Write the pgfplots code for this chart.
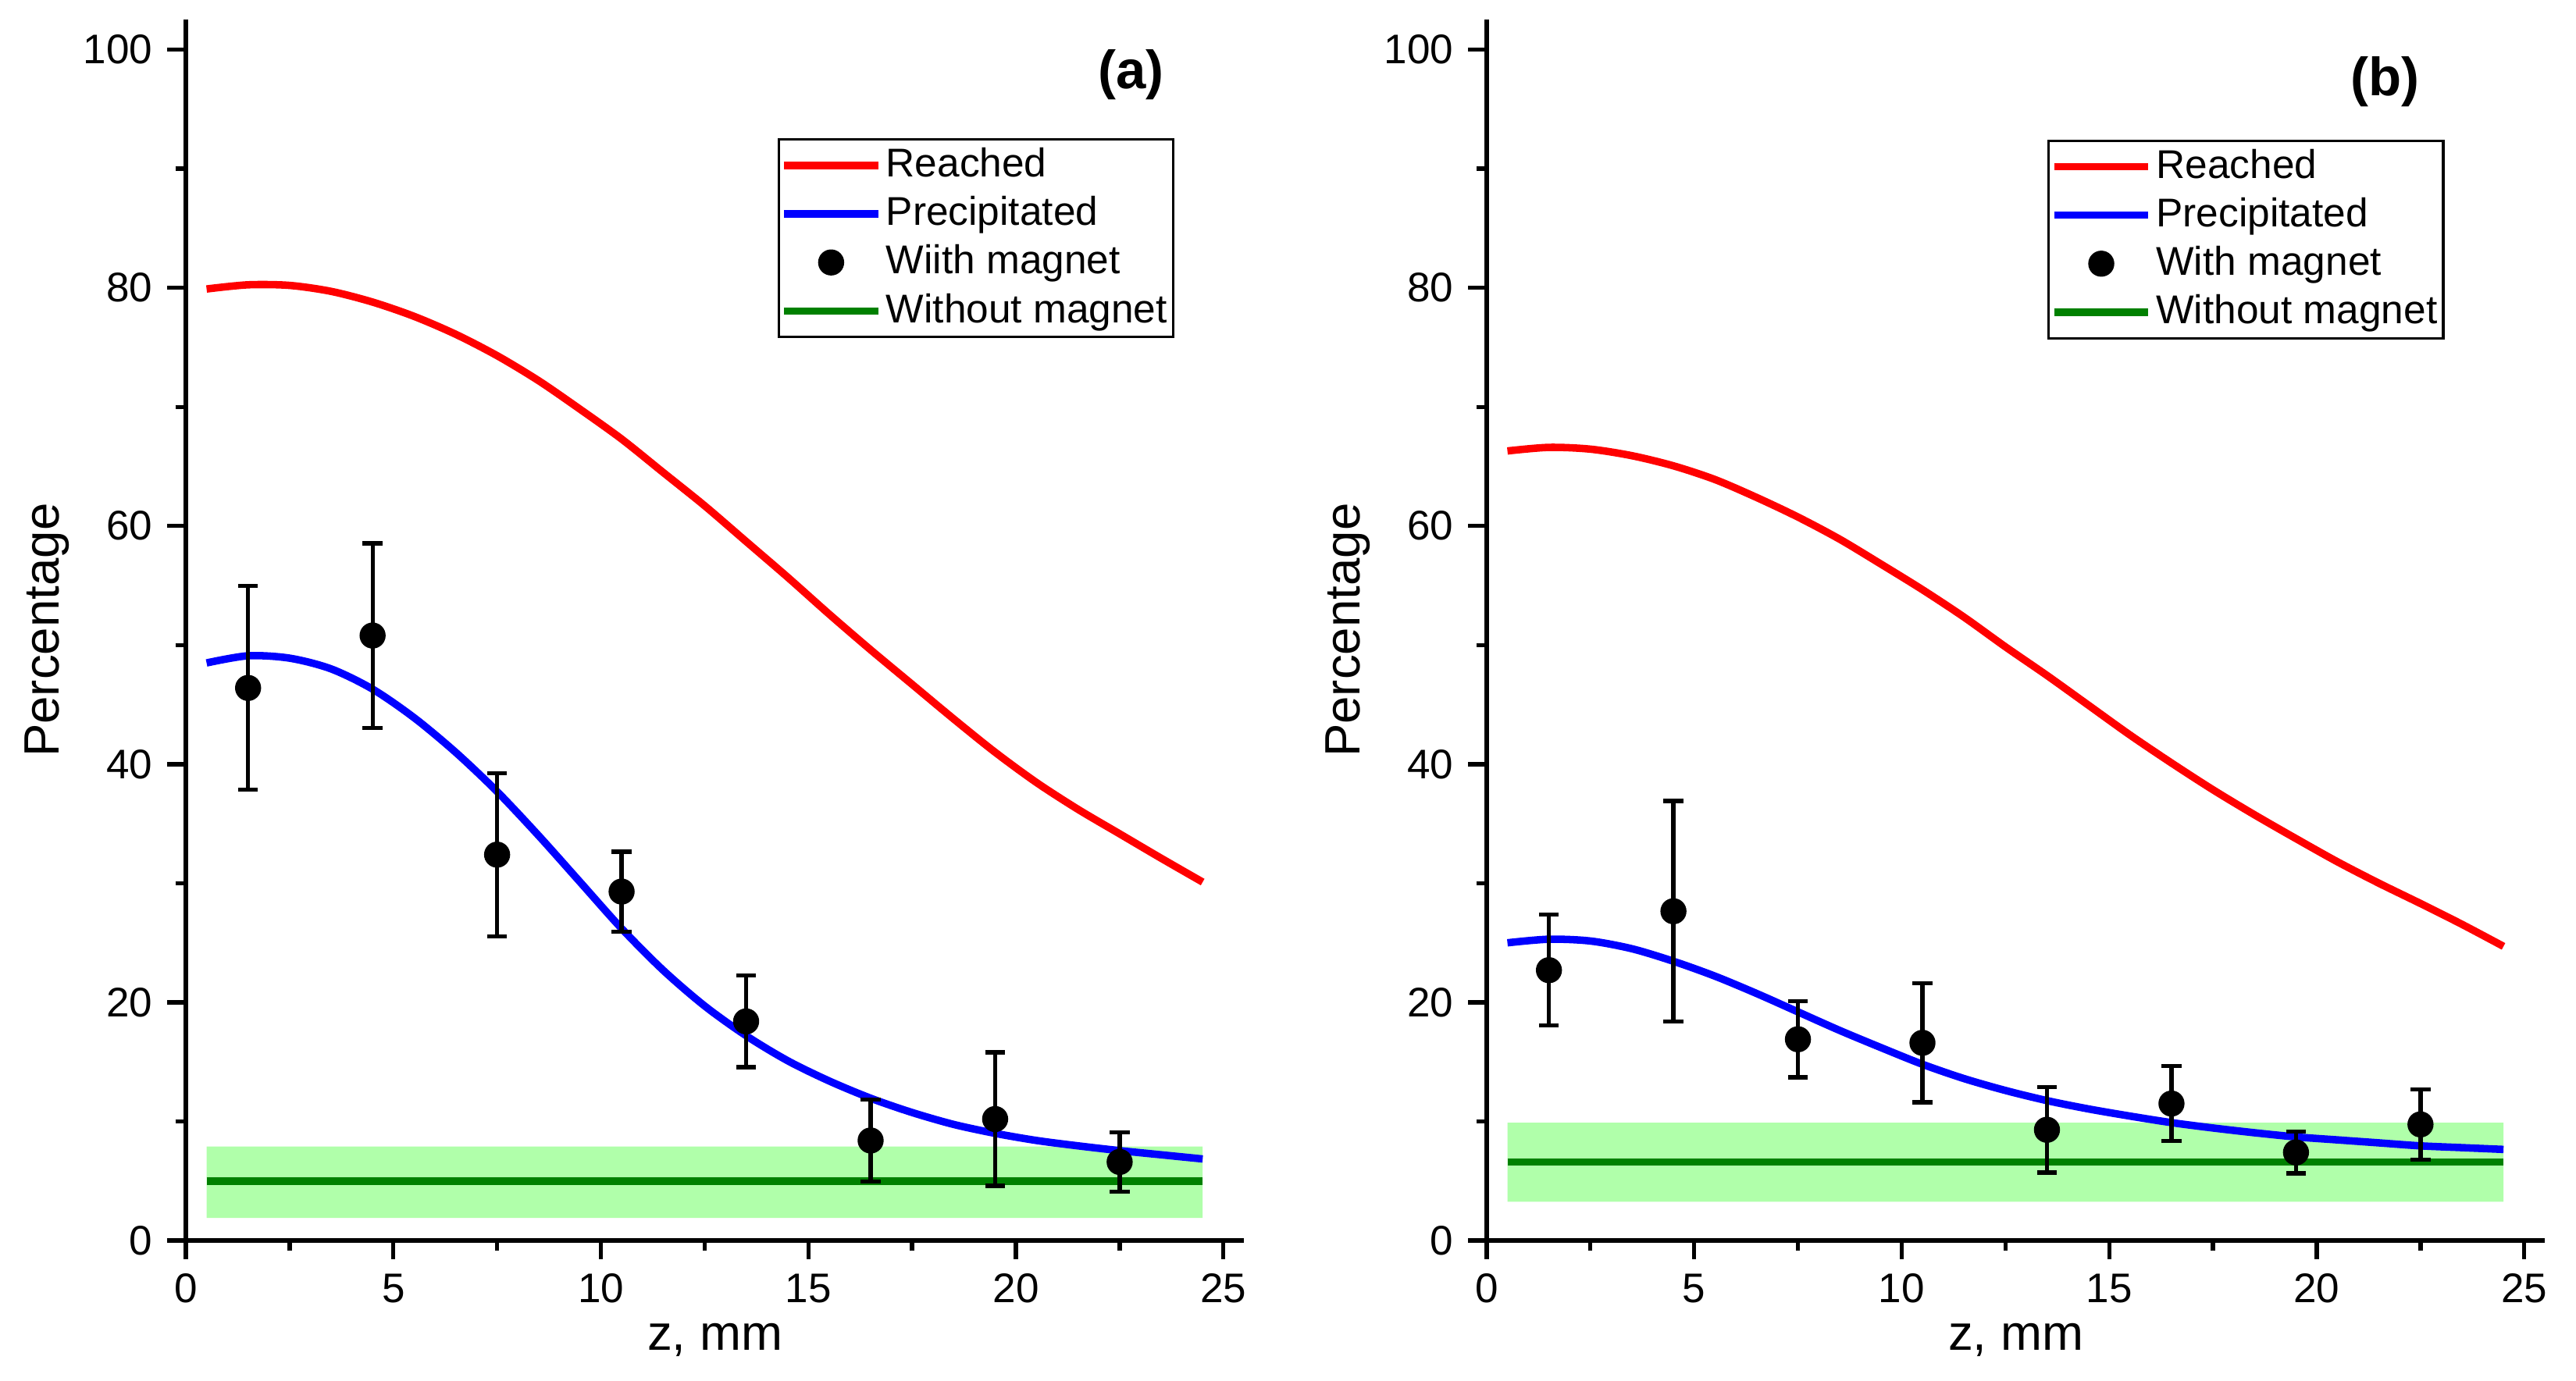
\documentclass[border=0pt]{standalone}
\usepackage{fontspec}
\setmainfont{Liberation Sans}
\usepackage{pgfplots}
\pgfplotsset{compat=1.18}
\usepackage{pgfplotstable}

\definecolor{myred}{RGB}{255,0,0}
\definecolor{myblue}{RGB}{0,0,255}
\definecolor{mygreen}{RGB}{0,128,0}
\definecolor{bandgreen}{RGB}{176,255,170}

% ---------- data panel (a) ----------
\pgfplotstableread{
x y
0.5 79.9
1.5 80.25
2.5 80.2
3.5 79.7
4.5 78.8
5.5 77.6
6.5 76.1
7.5 74.3
8.5 72.2
9.5 69.8
10.5 67.3
11.5 64.5
12.5 61.7
13.5 58.7
14.5 55.7
15.5 52.6
16.5 49.6
17.5 46.7
18.5 43.8
19.5 41.0
20.5 38.45
21.5 36.2
22.5 34.15
23.5 32.1
24.5 30.1
}\redA
\pgfplotstableread{
x y
0.5 48.5
1.5 49.1
2.5 48.9
3.5 48.0
4.5 46.3
5.5 43.9
6.5 41.0
7.5 37.7
8.5 34.0
9.5 30.1
10.5 26.2
11.5 22.7
12.5 19.7
13.5 17.2
14.5 15.1
15.5 13.4
16.5 11.95
17.5 10.75
18.5 9.75
19.5 9.0
20.5 8.4
21.5 7.95
22.5 7.55
23.5 7.2
24.5 6.85
}\blueA
\pgfplotstableread{
x y e
1.5 46.4 8.55
4.5 50.8 7.75
7.5 32.4 6.85
10.5 29.3 3.35
13.5 18.4 3.85
16.5 8.4 3.45
19.5 10.2 5.6
22.5 6.6 2.5
}\ptsA
% ---------- data panel (b) ----------
\pgfplotstableread{
x y
0.5 66.3
1.5 66.6
2.5 66.45
3.5 65.9
4.5 65.05
5.5 63.9
6.5 62.4
7.5 60.75
8.5 58.9
9.5 56.8
10.5 54.65
11.5 52.35
12.5 49.85
13.5 47.45
14.5 44.95
15.5 42.45
16.5 40.1
17.5 37.85
18.5 35.75
19.5 33.75
20.5 31.8
21.5 30.0
22.5 28.3
23.5 26.55
24.5 24.7
}\redB
\pgfplotstableread{
x y
0.5 25.0
1.5 25.3
2.5 25.15
3.5 24.5
4.5 23.45
5.5 22.2
6.5 20.75
7.5 19.2
8.5 17.65
9.5 16.2
10.5 14.8
11.5 13.6
12.5 12.6
13.5 11.75
14.5 11.05
15.5 10.45
16.5 9.9
17.5 9.45
18.5 9.05
19.5 8.7
20.5 8.45
21.5 8.2
22.5 7.95
23.5 7.8
24.5 7.65
}\blueB
\pgfplotstableread{
x y e
1.5 22.7 4.65
4.5 27.65 9.25
7.5 16.9 3.2
10.5 16.6 5.0
13.5 9.3 3.6
16.5 11.5 3.15
19.5 7.4 1.75
22.5 9.75 2.95
}\ptsB

\pgfplotsset{
  panel/.style={
    scale only axis, width=255.7pt, height=295pt,
    xmin=0, xmax=25.5, ymin=0, ymax=102.5,
    axis x line*=bottom, axis y line*=left,
    axis line style={line width=1pt, black},
    xtick={0,5,...,25}, ytick={0,20,...,100},
    minor xtick={2.5,7.5,...,22.5}, minor ytick={10,30,...,90},
    tick align=outside,
    major tick length=4.5pt, minor tick length=2.5pt,
    every tick/.style={black, line width=1pt},
    tick label style={font=\fontsize{10}{12}\selectfont},
    /pgf/number format/assume math mode=true,
    xlabel={z, mm}, ylabel={Percentage},
    every axis x label/.style={at={(axis description cs:0.5,-0.0895)}, anchor=base, font=\fontsize{12}{14}\selectfont},
    every axis y label/.style={at={(axis description cs:-0.1197,0.5)}, rotate=90, anchor=base, font=\fontsize{12}{14}\selectfont},
    legend cell align=left,
    legend image code/.code={\draw[mark repeat=2,mark phase=2,##1] plot coordinates {(0cm,0cm) (0.4cm,0cm) (0.8cm,0cm)};},
    legend style={draw=black, line width=0.6pt, fill=white,
      font=\fontsize{9.7}{11.6}\selectfont, inner sep=0.4pt,
      nodes={inner xsep=1pt, inner ysep=1.6pt}, row sep=0pt},
  },
  curve/.style={line width=1.8pt, smooth},
  pts/.style={only marks, mark=*, mark size=3pt, black, mark options={fill=black, draw=black, line width=0.3pt},
    error bars/.cd, y dir=both, y explicit,
    error bar style={line width=1pt, black},
    error mark options={rotate=90, mark size=2.4pt, line width=1pt, black}},
}

\begin{document}
\begin{tikzpicture}
\begin{axis}[panel, at={(0pt,0pt)}, anchor=south west,
  legend style={at={(0.934,0.903)}, anchor=north east}]
  \addplot[fill=bandgreen, draw=none, forget plot] coordinates {(0.5,1.9) (24.5,1.9) (24.5,7.9) (0.5,7.9) (0.5,1.9)};
  \addplot[mygreen, line width=1.8pt, forget plot] coordinates {(0.5,5.0) (24.5,5.0)};
  \addplot[myred, curve] table[x=x,y=y] {\redA};
  \addlegendentry{Reached}
  \addplot[myblue, curve] table[x=x,y=y] {\blueA};
  \addlegendentry{Precipitated}
  \addplot[pts] table[x=x,y=y,y error=e] {\ptsA};
  \addlegendentry{Wiith magnet}
  \addlegendimage{mygreen, line width=1.8pt}
  \addlegendentry{Without magnet}
  \node[font=\bfseries\fontsize{13}{15}\selectfont] at (axis description cs:0.893,0.955) {(a)};
\end{axis}
\begin{axis}[panel, at={(314.3pt,0pt)}, anchor=south west,
  legend style={at={(0.905,0.902)}, anchor=north east}]
  \addplot[fill=bandgreen, draw=none, forget plot] coordinates {(0.5,3.25) (24.5,3.25) (24.5,9.9) (0.5,9.9) (0.5,3.25)};
  \addplot[mygreen, line width=1.8pt, forget plot] coordinates {(0.5,6.6) (24.5,6.6)};
  \addplot[myred, curve] table[x=x,y=y] {\redB};
  \addlegendentry{Reached}
  \addplot[myblue, curve] table[x=x,y=y] {\blueB};
  \addlegendentry{Precipitated}
  \addplot[pts] table[x=x,y=y,y error=e] {\ptsB};
  \addlegendentry{With magnet}
  \addlegendimage{mygreen, line width=1.8pt}
  \addlegendentry{Without magnet}
  \node[font=\bfseries\fontsize{13}{15}\selectfont] at (axis description cs:0.849,0.949) {(b)};
\end{axis}
\pgfresetboundingbox
\useasboundingbox (-44.9pt,-33.8pt) rectangle (577.5pt,299.8pt);
\end{tikzpicture}
\end{document}
